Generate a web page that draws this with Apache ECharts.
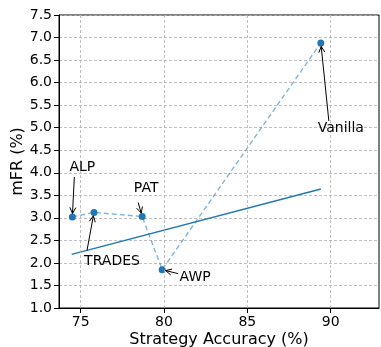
<!DOCTYPE html>
<html>
<head>
<meta charset="utf-8">
<script src="https://cdn.jsdelivr.net/npm/echarts@6/dist/echarts.min.js"></script>
<style>
html,body{margin:0;padding:0;background:#fff;}
#chart{width:381px;height:347px;}
</style>
</head>
<body>
<div id="chart"></div>
<script>
// ---- data ----
const methods = ['ALP', 'TRADES', 'PAT', 'AWP', 'Vanilla'];
const accuracy = [74.5, 75.8, 78.69, 79.89, 89.41];
const mfr = [3.02, 3.12, 3.03, 1.85, 6.88];
const fitX = [74.46, 89.41];
const fitY = [2.19, 3.64];
const xTicks = [75, 80, 85, 90];
const yRange = [1.0, 7.5];
const xRange = [73.7, 92.9];

// ---- annotation styling (pixel offsets relative to the point) ----
const textOffset = {ALP:[10,-50], TRADES:[18,49], PAT:[4,-28], AWP:[33,8], Vanilla:[20,85]};
const tailOffset = {ALP:[2,-40], TRADES:[-7,38], PAT:[-4,-14], AWP:[16,4], Vanilla:[8,78]};

const FONT = 'DejaVu Sans';
const C0 = '#1f77b4';
const gridColor = '#b0b0b0';

const chart = echarts.init(document.getElementById('chart'), null, {renderer:'canvas'});

const pts = accuracy.map((x, i) => [x, mfr[i]]);
const fitPts = fitX.map((x, i) => [x, fitY[i]]);

const option = {
  animation: false,
  backgroundColor: '#fff',
  grid: {left: 59, right: 2, top: 15, bottom: 39, show: true, borderColor: '#000', borderWidth: 1, backgroundColor: 'transparent', containLabel: false, outerBoundsMode: 'none'},
  xAxis: {
    type: 'value', min: xRange[0], max: xRange[1],
    name: 'Strategy Accuracy (%)', nameLocation: 'middle', nameGap: 24, nameMoveOverlap: false,
    nameTextStyle: {fontFamily: FONT, fontSize: 16, color: '#000'},
    axisLine: {show: true, lineStyle: {color: '#000', width: 1}},
    axisTick: {show: true, length: 5, lineStyle: {color: '#000'}, customValues: xTicks},
    axisLabel: {fontFamily: FONT, fontSize: 14, color: '#000', margin: 7, customValues: xTicks},
    splitLine: {show: false}
  },
  yAxis: {
    type: 'value', min: yRange[0], max: yRange[1], interval: 0.5,
    name: 'mFR (%)', nameLocation: 'middle', nameGap: 33, nameMoveOverlap: false,
    nameTextStyle: {fontFamily: FONT, fontSize: 16, color: '#000'},
    axisLine: {show: true, lineStyle: {color: '#000', width: 1}},
    axisTick: {show: true, length: 5, lineStyle: {color: '#000'}},
    axisLabel: {fontFamily: FONT, fontSize: 14, color: '#000', margin: 7, formatter: v => v.toFixed(1)},
    splitLine: {show: true, lineStyle: {color: gridColor, type: [3, 2], width: 0.8}}
  },
  series: [
    {
      type: 'line', data: [], z: 1, silent: true,
      markLine: {
        silent: true, symbol: ['none', 'none'], animation: false,
        label: {show: false},
        lineStyle: {color: gridColor, type: [3, 2], width: 0.8},
        data: xTicks.map(v => ({xAxis: v}))
      }
    },
    {
      type: 'line', data: pts, symbol: 'none', z: 2,
      lineStyle: {color: 'rgba(31,119,180,0.55)', width: 1.4, type: [5, 3]}
    },
    {
      type: 'line', data: fitPts, symbol: 'none', z: 3,
      lineStyle: {color: C0, width: 1.4}
    },
    {
      type: 'scatter', data: pts, symbolSize: 7, z: 4,
      itemStyle: {color: C0, opacity: 1}
    }
  ]
};
chart.setOption(option);

function arrowEls(tail, tip) {
  const dx = tip[0] - tail[0], dy = tip[1] - tail[1];
  const len = Math.hypot(dx, dy);
  const ux = dx / len, uy = dy / len;
  const end = [tip[0] - ux * 3.5, tip[1] - uy * 3.5];
  const hl = 6, hw = 3;
  const bx = end[0] - ux * hl, by = end[1] - uy * hl;
  const left = [bx - uy * hw, by + ux * hw];
  const right = [bx + uy * hw, by - ux * hw];
  return [
    {type: 'line', shape: {x1: tail[0], y1: tail[1], x2: end[0], y2: end[1]}, style: {stroke: '#000', lineWidth: 1}, z: 10},
    {type: 'polyline', shape: {points: [left, end, right]}, style: {stroke: '#000', lineWidth: 1, fill: null}, z: 10}
  ];
}

const els = [];
methods.forEach((m, i) => {
  const p = chart.convertToPixel({gridIndex: 0}, [accuracy[i], mfr[i]]);
  const to = textOffset[m], ta = tailOffset[m];
  els.push({
    type: 'text', x: p[0] + to[0], y: p[1] + to[1], z: 11,
    style: {text: m, fontFamily: FONT, fontSize: 14, fill: '#000', align: 'center', verticalAlign: 'middle'}
  });
  arrowEls([p[0] + ta[0], p[1] + ta[1]], p).forEach(e => els.push(e));
});
chart.setOption({graphic: els});
</script>
</body>
</html>
